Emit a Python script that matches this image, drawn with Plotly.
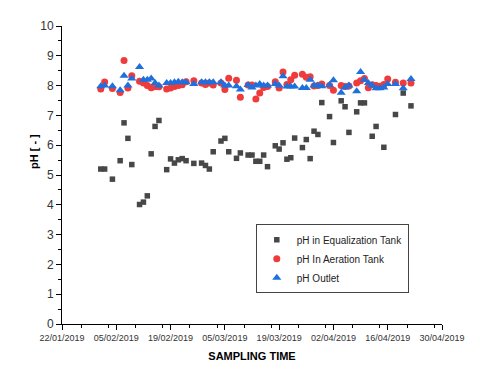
import plotly.graph_objects as go

# sampling dates, equalization tank
eq_dates = ["2019-02-01", "2019-02-02", "2019-02-04", "2019-02-06", "2019-02-07", "2019-02-08",
            "2019-02-09", "2019-02-11", "2019-02-12", "2019-02-13", "2019-02-14", "2019-02-15",
            "2019-02-16", "2019-02-18", "2019-02-19", "2019-02-20", "2019-02-21", "2019-02-22",
            "2019-02-23", "2019-02-25", "2019-02-27", "2019-02-28", "2019-03-01", "2019-03-02",
            "2019-03-04", "2019-03-05", "2019-03-06", "2019-03-08", "2019-03-09", "2019-03-11",
            "2019-03-12", "2019-03-13", "2019-03-14", "2019-03-15", "2019-03-16", "2019-03-18",
            "2019-03-19", "2019-03-20", "2019-03-21", "2019-03-22", "2019-03-23", "2019-03-25",
            "2019-03-26", "2019-03-27", "2019-03-28", "2019-03-29", "2019-03-30", "2019-04-01",
            "2019-04-02", "2019-04-04", "2019-04-05", "2019-04-06", "2019-04-08", "2019-04-09",
            "2019-04-10", "2019-04-12", "2019-04-13", "2019-04-15", "2019-04-18", "2019-04-20",
            "2019-04-22"]
ph_eq = [5.20, 5.20, 4.86, 5.48, 6.75, 6.23, 5.35, 4.01, 4.09, 4.30, 5.71, 6.63, 6.83,
         5.18, 5.54, 5.40, 5.51, 5.55, 5.48, 5.39, 5.40, 5.32, 5.20, 5.78, 6.14, 6.23,
         5.78, 5.56, 5.74, 5.67, 5.67, 5.46, 5.46, 5.67, 5.28, 5.98, 5.87, 6.08, 5.53,
         5.58, 6.24, 5.92, 6.19, 5.55, 6.47, 6.36, 7.43, 6.96, 6.09, 7.49, 7.29, 6.43,
         7.12, 7.42, 7.42, 6.30, 6.63, 5.93, 7.03, 7.75, 7.32]

# sampling dates, aeration tank and outlet
ae_dates = ["2019-02-01", "2019-02-02", "2019-02-04", "2019-02-06", "2019-02-07", "2019-02-08",
            "2019-02-09", "2019-02-11", "2019-02-12", "2019-02-13", "2019-02-14", "2019-02-15",
            "2019-02-16", "2019-02-18", "2019-02-19", "2019-02-20", "2019-02-21", "2019-02-22",
            "2019-02-23", "2019-02-25", "2019-02-27", "2019-02-28", "2019-03-01", "2019-03-02",
            "2019-03-04", "2019-03-05", "2019-03-06", "2019-03-08", "2019-03-09", "2019-03-11",
            "2019-03-12", "2019-03-13", "2019-03-14", "2019-03-15", "2019-03-16", "2019-03-18",
            "2019-03-19", "2019-03-20", "2019-03-21", "2019-03-22", "2019-03-23", "2019-03-25",
            "2019-03-26", "2019-03-27", "2019-03-28", "2019-03-29", "2019-03-30", "2019-04-01",
            "2019-04-02", "2019-04-04", "2019-04-05", "2019-04-06", "2019-04-08", "2019-04-09",
            "2019-04-10", "2019-04-11", "2019-04-12", "2019-04-13", "2019-04-14", "2019-04-15",
            "2019-04-16", "2019-04-18", "2019-04-20", "2019-04-22"]
ph_aer = [7.89, 8.12, 7.90, 7.77, 8.84, 7.92, 8.33, 8.15, 8.09, 8.00, 7.93, 7.96, 7.96,
          7.89, 7.92, 7.97, 8.00, 8.03, 8.13, 8.16, 8.09, 8.04, 8.09, 8.02, 8.09, 7.87,
          8.25, 8.18, 7.61, 8.02, 8.02, 7.55, 7.75, 7.94, 7.97, 8.13, 7.92, 8.46, 8.04,
          8.20, 8.35, 8.38, 8.28, 8.30, 7.99, 8.00, 8.05, 8.00, 7.84, 8.00, 7.97, 7.99,
          8.09, 8.16, 8.24, 7.93, 8.03, 8.00, 7.98, 8.04, 8.22, 8.11, 8.09, 8.09]
ph_out = [7.98, 8.00, 7.98, 7.84, 8.33, 8.00, 8.24, 8.62, 8.20, 8.20, 8.24, 8.09, 8.00,
          8.09, 8.09, 8.11, 8.13, 8.11, 8.11, 8.05, 8.11, 8.11, 8.11, 8.11, 8.11, 8.00,
          8.00, 7.98, 7.87, 8.02, 7.94, 8.00, 8.05, 8.00, 8.00, 8.05, 8.00, 8.31, 7.97,
          7.97, 7.97, 7.92, 7.92, 8.20, 8.00, 8.00, 7.98, 8.02, 8.18, 7.76, 7.94, 8.00,
          7.81, 8.46, 8.20, 8.09, 8.00, 7.91, 7.91, 7.94, 8.05, 8.05, 7.91, 8.22]

fig = go.Figure()
fig.add_trace(go.Scatter(x=eq_dates, y=ph_eq, mode="markers", name="pH in Equalization Tank",
                         marker=dict(symbol="square", size=5.5, color="#474747")))
fig.add_trace(go.Scatter(x=ae_dates, y=ph_aer, mode="markers", name="pH In Aeration Tank",
                         marker=dict(symbol="circle", size=7, color="#ef3b3b")))
fig.add_trace(go.Scatter(x=ae_dates, y=ph_out, mode="markers", name="pH Outlet",
                         marker=dict(symbol="triangle-up", size=8, color="#1f6fdc")))

day = 86400000
fig.update_xaxes(type="date", range=["2019-01-22", "2019-04-30"],
                 tick0="2019-01-22", dtick=14 * day, tickformat="%d/%m/%Y",
                 ticks="outside", ticklen=5, tickcolor="black",
                 minor=dict(dtick=7 * day, ticks="outside", ticklen=3, tickcolor="black"),
                 showline=True, linecolor="black", linewidth=1, showgrid=False, zeroline=False,
                 tickfont=dict(family="Liberation Sans, Arial", size=9, color="#333333"),
                 title=dict(text="<b>SAMPLING TIME</b>", standoff=10,
                            font=dict(family="Liberation Sans, Arial", size=11, color="black")))
fig.update_yaxes(range=[0, 10], dtick=1, ticks="outside", ticklen=5, tickcolor="black",
                 minor=dict(dtick=0.5, ticks="outside", ticklen=3, tickcolor="black"),
                 showline=True, linecolor="black", linewidth=1, showgrid=False, zeroline=False,
                 tickfont=dict(family="Liberation Sans, Arial", size=12, color="#333333"))

fig.add_annotation(text="<b>pH [ - ]</b>", xref="paper", yref="paper", x=-0.095, y=0.58,
                   textangle=-90, showarrow=False,
                   font=dict(family="Liberation Sans, Arial", size=11, color="black"))

# page body margin is 8px, so the figure is a bit smaller than the window
fig.update_layout(width=472, height=366, paper_bgcolor="white", plot_bgcolor="white",
                  margin=dict(l=54, r=38, t=11, b=50),
                  legend=dict(x=0.51, y=0.335, xanchor="left", yanchor="top",
                              bordercolor="#444444", borderwidth=1, bgcolor="white",
                              font=dict(family="Liberation Sans, Arial", size=10, color="#222222"),
                              tracegroupgap=0))

fig.write_html("out.html")
